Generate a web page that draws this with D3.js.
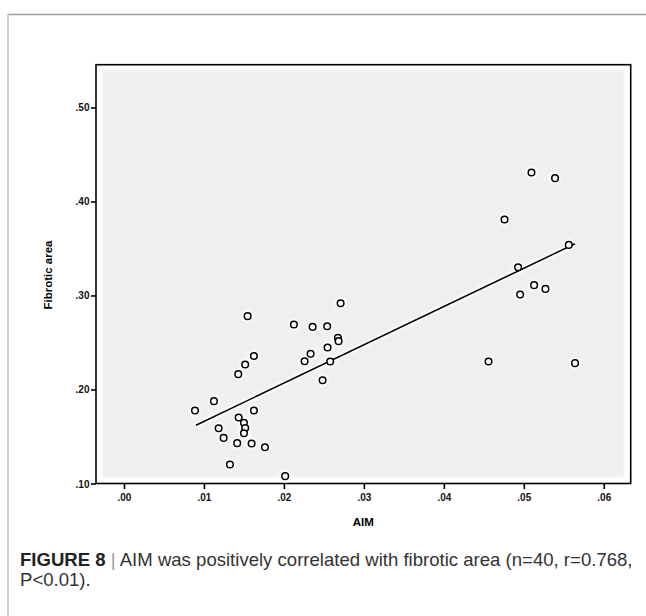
<!DOCTYPE html>
<html>
<head>
<meta charset="utf-8">
<script src="https://cdn.jsdelivr.net/npm/d3@7/dist/d3.min.js"></script>
<style>
  html, body { margin: 0; padding: 0; background: #fff; }
  svg { display: block; }
</style>
</head>
<body>
<svg id="chart" width="646" height="616"></svg>
<script>
// ---- data ----
const aimValues = [
  0.00888, 0.01125, 0.01546, 0.01625, 0.01516, 0.01429, 0.01625, 0.01434, 0.01500, 0.01516,
  0.01500, 0.01184, 0.01246, 0.01416, 0.01596, 0.01763, 0.01325, 0.02016, 0.02125, 0.02359,
  0.02541, 0.02709, 0.02675, 0.02684, 0.02546, 0.02334, 0.02259, 0.02579, 0.02484, 0.05096,
  0.05391, 0.04759, 0.05563, 0.04929, 0.05129, 0.05271, 0.04954, 0.04559, 0.05641
];
const fibroticValues = [
  0.1777, 0.1876, 0.2780, 0.2357, 0.2266, 0.2163, 0.1777, 0.1702, 0.1645, 0.1591,
  0.1535, 0.1588, 0.1485, 0.1429, 0.1426, 0.1386, 0.1202, 0.1078, 0.2691, 0.2666,
  0.2673, 0.2918, 0.2549, 0.2514, 0.2447, 0.2379, 0.2301, 0.2298, 0.2099, 0.4309,
  0.4248, 0.3809, 0.3538, 0.3301, 0.3110, 0.3070, 0.3011, 0.2298, 0.2280
];
const fitLineX = [0.0090, 0.0564];
const fitLineY = [0.1620, 0.3550];
const xTickValues = [0.00, 0.01, 0.02, 0.03, 0.04, 0.05, 0.06];
const yTickValues = [0.10, 0.20, 0.30, 0.40, 0.50];
const xTitle = "AIM";
const yTitle = "Fibrotic area";
const captionBold = "FIGURE 8";
const captionLine1 = "AIM was positively correlated with fibrotic area (n=40, r=0.768,";
const captionLine2 = "P<0.01).";

// ---- layout ----
const svg = d3.select("#chart");
const frame = { left: 96, top: 64.7, right: 630.7, bottom: 483.5 };

const x = d3.scaleLinear().domain([-0.0035, 0.06337]).range([frame.left, frame.right]);
const y = d3.scaleLinear().domain([0.10, 0.5455]).range([frame.bottom, frame.top]);

const defs = svg.append("defs");
defs.append("filter").attr("id", "soft").attr("x", "-20%").attr("y", "-20%").attr("width", "140%").attr("height", "140%")
  .append("feGaussianBlur").attr("stdDeviation", 1.2);
defs.append("filter").attr("id", "glow").attr("x", "-100%").attr("y", "-100%").attr("width", "300%").attr("height", "300%")
  .append("feGaussianBlur").attr("stdDeviation", 1.3);

// outer figure border lines
svg.append("line").attr("x1", 8).attr("x2", 646).attr("y1", 14.5).attr("y2", 14.5)
  .attr("stroke", "#9a9a9a").attr("stroke-width", 1.5);
svg.append("line").attr("x1", 8).attr("x2", 8).attr("y1", 14).attr("y2", 616)
  .attr("stroke", "#cfcfcf").attr("stroke-width", 2);

// plot frame
svg.append("rect").attr("x", frame.left).attr("y", frame.top)
  .attr("width", frame.right - frame.left).attr("height", frame.bottom - frame.top)
  .attr("fill", "#ffffff");
svg.append("rect").attr("x", frame.left + 6.5).attr("y", frame.top + 6)
  .attr("width", frame.right - frame.left - 13).attr("height", frame.bottom - frame.top - 12.5)
  .attr("fill", "#efefef").attr("filter", "url(#soft)");
svg.append("rect").attr("x", frame.left).attr("y", frame.top)
  .attr("width", frame.right - frame.left).attr("height", frame.bottom - frame.top)
  .attr("fill", "none").attr("stroke", "#000").attr("stroke-width", 1.6);

// axes
const fmt = v => d3.format(".2f")(v).replace(/^0/, "");
const xAxis = d3.axisBottom(x).tickValues(xTickValues).tickFormat(fmt).tickSize(5.5).tickSizeOuter(0);
const yAxis = d3.axisLeft(y).tickValues(yTickValues).tickFormat(fmt).tickSize(5).tickSizeOuter(0);

const gx = svg.append("g").attr("transform", `translate(0,${frame.bottom})`).call(xAxis);
const gy = svg.append("g").attr("transform", `translate(${frame.left},0)`).call(yAxis);
[gx, gy].forEach(g => {
  g.select(".domain").remove();
  g.selectAll(".tick line").attr("stroke", "#000").attr("stroke-width", 1.6);
  g.selectAll(".tick text").attr("fill", "#111")
    .style("font-family", "'Liberation Sans', Arial, sans-serif")
    .style("font-size", "10px").style("font-weight", "bold");
});
gx.selectAll(".tick text").attr("dy", null).attr("y", 17);
gy.selectAll(".tick text").attr("x", -6.5).attr("dy", "0.35em");

// axis titles
svg.append("text").attr("x", (frame.left + frame.right) / 2).attr("y", 526)
  .attr("text-anchor", "middle")
  .style("font-family", "'Liberation Sans', Arial, sans-serif")
  .style("font-size", "11.5px").style("font-weight", "bold").text(xTitle);
svg.append("text").attr("transform", "translate(52,275) rotate(-90)")
  .attr("text-anchor", "middle")
  .style("font-family", "'Liberation Sans', Arial, sans-serif")
  .style("font-size", "11.5px").style("font-weight", "bold").text(yTitle);

// data
const points = aimValues.map((v, i) => ({ x: v, y: fibroticValues[i] }));
const fit = fitLineX.map((v, i) => ({ x: v, y: fitLineY[i] }));
const lineGen = d3.line().x(d => x(d.x)).y(d => y(d.y));

// halos
svg.append("path").datum(fit).attr("d", lineGen).attr("fill", "none")
  .attr("stroke", "#fff").attr("stroke-width", 5).attr("filter", "url(#glow)");
svg.append("g").selectAll("circle").data(points).join("circle")
  .attr("cx", d => x(d.x)).attr("cy", d => y(d.y)).attr("r", 5.8)
  .attr("fill", "#fff").attr("filter", "url(#glow)");

// regression line
svg.append("path").datum(fit).attr("d", lineGen).attr("fill", "none")
  .attr("stroke", "#000").attr("stroke-width", 1.5);

// points
svg.append("g").selectAll("circle").data(points).join("circle")
  .attr("cx", d => x(d.x)).attr("cy", d => y(d.y)).attr("r", 3.3)
  .attr("fill", "#fafafa").attr("stroke", "#000").attr("stroke-width", 1.5);

// caption
const cap = svg.append("text").attr("x", 20).attr("y", 566)
  .style("font-family", "'Liberation Sans', Arial, sans-serif")
  .style("font-size", "15px").attr("fill", "#333");
cap.append("tspan").style("font-weight", "bold").attr("fill", "#222").text(captionBold);
cap.append("tspan").attr("fill", "#999").text(" | ");
cap.append("tspan").text(captionLine1);
const cap2 = svg.append("text").attr("x", 20).attr("y", 586)
  .style("font-family", "'Liberation Sans', Arial, sans-serif")
  .style("font-size", "15px").attr("fill", "#333").text(captionLine2);
// fit caption width to reference (line runs to about x=633)
const w = cap.node().getComputedTextLength();
const fs = 15 * 613 / w;
cap.style("font-size", fs + "px");
cap2.style("font-size", fs + "px");
</script>
</body>
</html>
